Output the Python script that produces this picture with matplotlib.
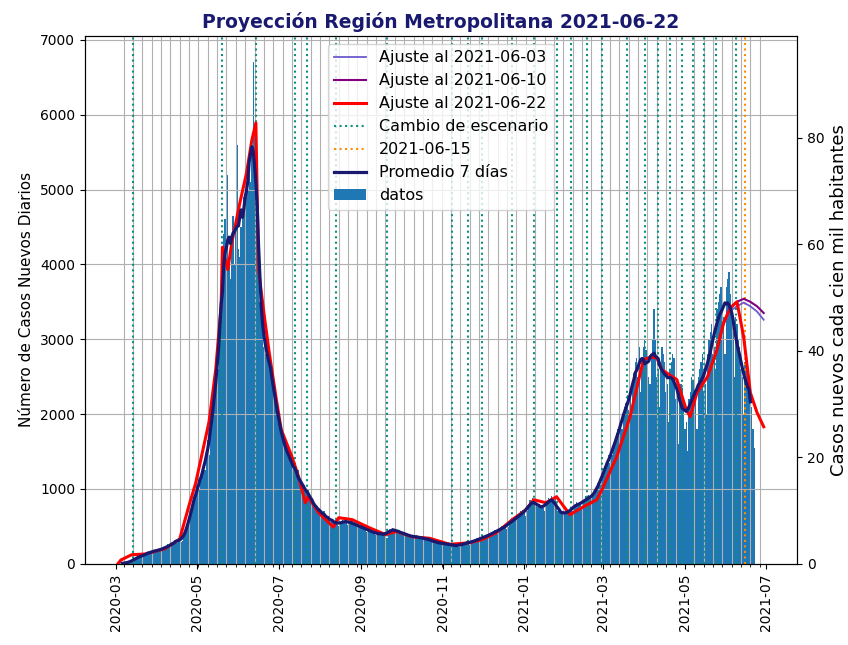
import matplotlib
matplotlib.use('Agg')
import matplotlib.pyplot as plt
import matplotlib.dates as mdates
import numpy as np
import pandas as pd

# poblacion RM (censo 2017)
poblacion = 7112808

# casos nuevos diarios RM, desde 2020-03-03 (una fila por semana)
casos = [
    1, 2, 3, 5, 6, 10, 12,
    15, 20, 25, 35, 45, 55, 70,
    85, 90, 100, 110, 95, 105, 120,
    140, 135, 160, 150, 170, 145, 155,
    190, 175, 200, 185, 165, 210, 180,
    230, 220, 260, 240, 210, 270, 250,
    300, 320, 280, 350, 330, 290, 310,
    350, 400, 450, 520, 600, 650, 720,
    800, 850, 950, 1050, 1100, 1000, 1150,
    1200, 1350, 1250, 1500, 1650, 1450, 1750,
    1800, 2100, 2300, 2400, 2750, 2600, 3000,
    3300, 3600, 4400, 4600, 3900, 5200, 4100,
    3800, 4300, 4650, 4000, 4500, 5600, 4200,
    4100, 4500, 4700, 4900, 5100, 4900, 5000,
    5200, 5100, 5600, 6700, 5800, 5600, 4600,
    3900, 3500, 3300, 3100, 2900, 2800, 3000,
    2800, 2700, 2600, 2500, 2400, 2300, 2100,
    2000, 1900, 1850, 1700, 1750, 1600, 1550,
    1500, 1450, 1400, 1350, 1450, 1300, 1250,
    1200, 1150, 1250, 1100, 1050, 1000, 1050,
    980, 950, 1000, 900, 870, 850, 800,
    780, 760, 720, 700, 740, 680, 650,
    700, 620, 600, 640, 590, 560, 600,
    560, 540, 580, 520, 500, 530, 560,
    590, 540, 600, 580, 520, 550, 540,
    580, 520, 560, 500, 490, 510, 480,
    520, 470, 500, 450, 430, 460, 440,
    460, 420, 430, 400, 380, 410, 400,
    430, 390, 380, 420, 370, 350, 440,
    470, 450, 480, 430, 460, 420, 450,
    430, 410, 440, 400, 380, 390, 400,
    390, 370, 380, 360, 340, 350, 380,
    370, 360, 350, 330, 340, 320, 350,
    340, 330, 320, 310, 300, 290, 300,
    290, 280, 300, 270, 260, 250, 280,
    270, 260, 290, 250, 240, 230, 260,
    250, 240, 270, 230, 220, 250, 270,
    290, 260, 300, 280, 250, 270, 300,
    320, 310, 340, 330, 290, 310, 350,
    370, 360, 390, 380, 340, 360, 400,
    430, 420, 450, 440, 400, 420, 470,
    500, 480, 520, 510, 460, 490, 560,
    600, 580, 620, 590, 540, 600, 660,
    700, 680, 720, 690, 640, 700, 780,
    850, 820, 880, 830, 760, 800, 760,
    800, 740, 790, 750, 700, 780, 820,
    880, 840, 900, 860, 800, 870, 750,
    700, 720, 680, 690, 640, 660, 680,
    700, 690, 720, 740, 700, 760, 780,
    820, 790, 830, 800, 760, 810, 850,
    900, 870, 920, 880, 840, 900, 920,
    980, 1000, 1080, 1100, 1050, 1150, 1200,
    1300, 1280, 1400, 1450, 1350, 1500, 1450,
    1600, 1650, 1750, 1800, 1700, 1900, 1800,
    2000, 2100, 2150, 2250, 2050, 2300, 2100,
    2400, 2550, 2700, 2750, 2500, 2900, 2300,
    2750, 2900, 3000, 2850, 2400, 2500, 2400,
    2800, 3000, 3400, 3000, 2500, 2600, 2100,
    2700, 2900, 2800, 2700, 2300, 2400, 1900,
    2600, 2700, 2800, 2750, 2200, 2300, 1600,
    2300, 2400, 2350, 2200, 1800, 1900, 1500,
    2200, 2300, 2500, 2450, 2100, 2200, 1800,
    2500, 2600, 2700, 2800, 2300, 2400, 2000,
    2800, 3000, 3100, 3200, 2800, 2900, 2600,
    3400, 3500, 3600, 3700, 3200, 3300, 2800,
    3700, 3800, 3900, 3600, 3300, 3100, 2500,
    3300, 3200, 3000, 2900, 2600, 2500, 2000,
    2700, 2600, 2500, 2400, 2200, 2100, 1800,
    1550,
]
inicio = '2020-03-03'

# ajuste al 2021-06-22
fechas_ajuste = ['2020-03-03', '2020-03-05', '2020-03-13', '2020-03-23', '2020-04-07',
                 '2020-04-18', '2020-04-25', '2020-04-30', '2020-05-10', '2020-05-15',
                 '2020-05-19', '2020-05-20', '2020-05-24', '2020-05-27', '2020-06-02',
                 '2020-06-07', '2020-06-11', '2020-06-14', '2020-06-16', '2020-06-20',
                 '2020-06-24', '2020-06-29', '2020-07-03', '2020-07-11', '2020-07-16',
                 '2020-07-21', '2020-07-23', '2020-07-31', '2020-08-11', '2020-08-15',
                 '2020-08-25', '2020-09-07', '2020-09-19', '2020-09-27', '2020-10-09',
                 '2020-10-22', '2020-11-06', '2020-11-21', '2020-11-30', '2020-12-11',
                 '2020-12-23', '2021-01-02', '2021-01-08', '2021-01-17', '2021-01-25',
                 '2021-02-04', '2021-02-14', '2021-02-24', '2021-02-28', '2021-03-11',
                 '2021-03-21', '2021-03-31', '2021-04-05', '2021-04-10', '2021-04-14',
                 '2021-04-25', '2021-05-02', '2021-05-05', '2021-05-10', '2021-05-18',
                 '2021-05-25', '2021-05-30', '2021-06-04', '2021-06-09', '2021-06-14',
                 '2021-06-19', '2021-06-24', '2021-06-29']
ajuste_0622 = [5, 50, 120, 130, 200,
               330, 780, 1080, 1900, 2600,
               3450, 4230, 3930, 4290, 4820,
               5220, 5660, 5890, 3930, 3350,
               2820, 2230, 1790, 1430, 1160,
               815, 895, 680, 490, 615,
               590, 480, 390, 430, 360,
               340, 260, 280, 320, 415,
               590, 720, 855, 815, 895,
               655, 760, 855, 990, 1430,
               1965, 2725, 2760, 2750, 2590,
               2460, 2060, 1965, 2285, 2500,
               2860, 3220, 3420, 3500, 3030,
               2285, 2020, 1830]

# ajustes anteriores (tramo final)
fechas_prev = ['2021-05-18', '2021-05-25', '2021-05-30', '2021-06-04', '2021-06-09',
               '2021-06-14', '2021-06-19', '2021-06-24', '2021-06-29']
ajuste_0603 = [2500, 2860, 3200, 3380, 3440, 3490, 3440, 3370, 3260]
ajuste_0610 = [2500, 2860, 3220, 3420, 3500, 3540, 3500, 3440, 3350]

escenarios = ['2020-03-14', '2020-05-20', '2020-06-14', '2020-07-13', '2020-07-22',
              '2020-08-13', '2020-09-20', '2020-11-08', '2020-11-20', '2020-11-30',
              '2020-12-23', '2021-01-08', '2021-01-25', '2021-02-05', '2021-02-17',
              '2021-02-28', '2021-03-19', '2021-04-01', '2021-04-11', '2021-04-20',
              '2021-04-29', '2021-05-07', '2021-05-15', '2021-05-24', '2021-06-08']
fecha_corte = '2021-06-15'

fechas = pd.date_range(inicio, periods=len(casos), freq='D')
serie = pd.Series(casos, index=fechas)
promedio = serie.rolling(7, center=True).mean()

fig = plt.figure(figsize=(8.48, 6.45), dpi=100)
ax = fig.add_axes([0.100, 0.126, 0.840, 0.818])

ax.plot(pd.to_datetime(fechas_prev), ajuste_0603, color='slateblue', lw=1.3,
        label='Ajuste al 2021-06-03', zorder=3)
ax.plot(pd.to_datetime(fechas_prev), ajuste_0610, color='purple', lw=1.5,
        label='Ajuste al 2021-06-10', zorder=3)
ax.plot(pd.to_datetime(fechas_ajuste), ajuste_0622, color='red', lw=2.2,
        label='Ajuste al 2021-06-22', zorder=4)
for i, f in enumerate(escenarios):
    ax.axvline(pd.Timestamp(f), color='#0f9080', ls=':', lw=1.5, zorder=2,
               label='Cambio de escenario' if i == 0 else None)
ax.axvline(pd.Timestamp(fecha_corte), color='darkorange', ls=':', lw=1.5, zorder=2,
           label=fecha_corte)
ax.plot(promedio.index, promedio.values, color='midnightblue', lw=2.3,
        label='Promedio 7 días', zorder=5)
ax.bar(fechas, casos, width=1.0, linewidth=0, color='tab:blue', label='datos', zorder=1)

ax.set_xlim(pd.Timestamp('2020-02-07'), pd.Timestamp('2021-07-24'))
ax.set_ylim(0, 7050)
ax.xaxis.set_major_locator(mdates.MonthLocator(bymonth=[1, 3, 5, 7, 9, 11]))
ax.xaxis.set_major_formatter(mdates.DateFormatter('%Y-%m'))
ax.set_xticks(pd.date_range('2020-03-07', '2021-06-26', freq='7D'), minor=True)
ax.tick_params(axis='x', which='minor', length=2)
plt.setp(ax.get_xticklabels(), rotation=90)
ax.grid(axis='y')
ax.grid(axis='x', which='minor')
ax.set_ylabel('Número de Casos Nuevos Diarios', fontsize=11)
ax.legend(loc='upper center', fontsize=11.5)
ax.set_title('Proyección Región Metropolitana 2021-06-22', fontweight='bold',
             color='midnightblue', fontsize=13.5)

ax2 = ax.twinx()
lo, hi = ax.get_ylim()
ax2.set_ylim(lo * 1e5 / poblacion, hi * 1e5 / poblacion)
ax2.set_ylabel('Casos nuevos cada cien mil habitantes', fontsize=13)

fig.savefig('out.png', dpi=100)
